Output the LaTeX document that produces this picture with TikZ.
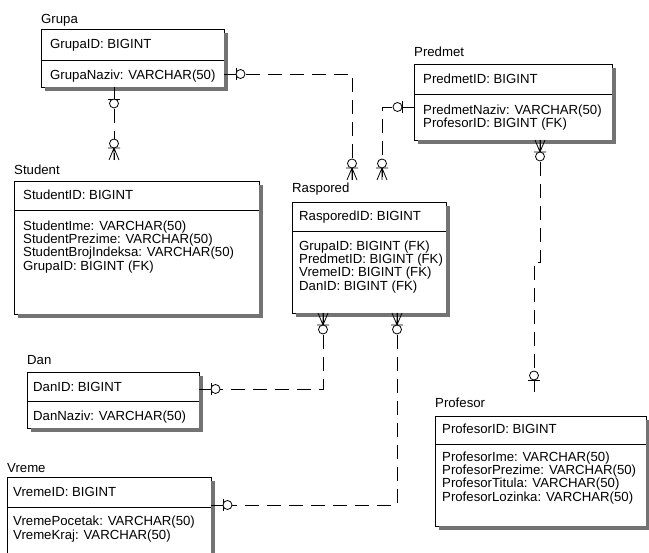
\documentclass[tikz,border=0pt]{standalone}
\usepackage{fontspec}
\setmainfont{Liberation Sans}

\tikzset{
    entity/.style={draw, fill=white, line width=0.8pt, anchor=north west,
        inner sep=0pt, outer sep=0pt},
    boxshadow/.style={fill=black!55, draw=none},
    lbl/.style={anchor=base west, inner sep=0pt, font=\fontsize{13.2}{13.3}\selectfont},
    attrs/.style={lbl, anchor=north west, align=left},
    rel/.style={line width=0.8pt, dash pattern=on 14pt off 8pt},
    % parent end: bar and circle
    onezero/.pic={
        \draw[line width=0.8pt] (0,0) -- (12,0) (12,-6) -- (12,6);
        \draw[line width=0.8pt, fill=white] (16.5,0) circle[radius=4.5];
    },
    % child end: crow's foot, bar and circle
    manyzero/.pic={
        \draw[line width=0.8pt] (0,0) -- (12,0) (0,-5) -- (12,0) -- (0,5) (12,-6) -- (12,6);
        \draw[line width=0.8pt, fill=white] (16.5,0) circle[radius=4.5];
    },
}

\begin{document}
\begin{tikzpicture}[x=1pt,y=-1pt]
    \useasboundingbox (0,0) rectangle (649,553);
    \clip (0,0) rectangle (649,553);

    % Grupa
    \node[entity, minimum width=183pt, minimum height=58pt] (grupa) at (41,29) {};
    \draw[line width=0.8pt] (grupa.west |- 0,60) -- (grupa.east |- 0,60);
    \node[lbl] (grupalbl) at (41,23.5) {Grupa};
    \node[lbl] (grupakey) at (50,48.5) {GrupaID: BIGINT};
    \node[attrs] (grupaattr) at (50,69.5) {GrupaNaziv: VARCHAR(50)};

    % Predmet
    \node[entity, minimum width=198pt, minimum height=76pt] (predmet) at (414,64) {};
    \draw[line width=0.8pt] (predmet.west |- 0,94) -- (predmet.east |- 0,94);
    \node[lbl] (predmetlbl) at (414,57) {Predmet};
    \node[lbl] (predmetkey) at (423,84) {PredmetID: BIGINT};
    \node[attrs] (predmetattr) at (423,104.5) {PredmetNaziv: VARCHAR(50)\\ProfesorID: BIGINT (FK)};

    % Student
    \node[entity, minimum width=245pt, minimum height=133pt] (student) at (14,181) {};
    \draw[line width=0.8pt] (student.west |- 0,210) -- (student.east |- 0,210);
    \node[lbl] (studentlbl) at (14,175) {Student};
    \node[lbl] (studentkey) at (23,200) {StudentID: BIGINT};
    \node[attrs] (studentattr) at (23,220.5) {StudentIme: VARCHAR(50)\\StudentPrezime: VARCHAR(50)\\StudentBrojIndeksa: VARCHAR(50)\\GrupaID: BIGINT (FK)};

    % Raspored
    \node[entity, minimum width=154pt, minimum height=111pt] (raspored) at (292,202) {};
    \draw[line width=0.8pt] (raspored.west |- 0,231) -- (raspored.east |- 0,231);
    \node[lbl] (rasporedlbl) at (292,193) {Raspored};
    \node[lbl] (rasporedkey) at (299,220.5) {RasporedID: BIGINT};
    \node[attrs] (rasporedattr) at (299,240.5) {GrupaID: BIGINT (FK)\\PredmetID: BIGINT (FK)\\VremeID: BIGINT (FK)\\DanID: BIGINT (FK)};

    % Dan
    \node[entity, minimum width=172pt, minimum height=56pt] (dan) at (27,372) {};
    \draw[line width=0.8pt] (dan.west |- 0,401) -- (dan.east |- 0,401);
    \node[lbl] (danlbl) at (27,365) {Dan};
    \node[lbl] (dankey) at (33,391.5) {DanID: BIGINT};
    \node[attrs] (danattr) at (33,410.5) {DanNaziv: VARCHAR(50)};

    % Vreme
    \node[entity, minimum width=204pt, minimum height=90pt] (vreme) at (7,477) {};
    \draw[line width=0.8pt] (vreme.west |- 0,507) -- (vreme.east |- 0,507);
    \node[lbl] (vremelbl) at (7,473) {Vreme};
    \node[lbl] (vremekey) at (13,497) {VremeID: BIGINT};
    \node[attrs] (vremeattr) at (13,516) {VremePocetak: VARCHAR(50)\\VremeKraj: VARCHAR(50)};

    % Profesor
    \node[entity, minimum width=211pt, minimum height=110pt] (profesor) at (435,416) {};
    \draw[line width=0.8pt] (profesor.west |- 0,444) -- (profesor.east |- 0,444);
    \node[lbl] (profesorlbl) at (435,408) {Profesor};
    \node[lbl] (profesorkey) at (442,434) {ProfesorID: BIGINT};
    \node[attrs] (profesorattr) at (442,451.5) {ProfesorIme: VARCHAR(50)\\ProfesorPrezime: VARCHAR(50)\\ProfesorTitula: VARCHAR(50)\\ProfesorLozinka: VARCHAR(50)};

    % shadow strips on the right and bottom of each box
    \foreach \e in {grupa,predmet,student,raspored,dan,vreme,profesor} {
        \fill[boxshadow] ([xshift=0.4pt,yshift=-4pt]\e.north east) rectangle ([xshift=4pt,yshift=-4pt]\e.south east);
        \fill[boxshadow] ([xshift=4pt,yshift=-0.4pt]\e.south west) rectangle ([xshift=4pt,yshift=-4pt]\e.south east);
    }

    % free ends above the titles
    \coordinate (stugrupa) at (114,160);
    \coordinate (rasgrupa) at (352,180);
    \coordinate (raspredmet) at (382,180);
    \coordinate (profpredmet) at (534,392);

    % relationships
    \draw[rel] (114,0 |- grupa.south) -- (stugrupa);
    \draw[rel] (grupa.east |- 0,74) -- (352,74) -- (rasgrupa);
    \draw[rel] (predmet.west |- 0,107) -- (382,107) -- (raspredmet);
    \draw[rel] (540,0 |- predmet.south) -- (540,262) -- (534,262) -- (profpredmet);
    \draw[rel] (323,0 |- raspored.south) -- (323,389) -- (dan.east |- 0,389);
    \draw[rel] (397,0 |- raspored.south) -- (397,505) -- (vreme.east |- 0,505);

    \pic[rotate=-90] at (114,0 |- grupa.south) {onezero};
    \pic[rotate=90] at (stugrupa) {manyzero};
    \pic at (grupa.east |- 0,74) {onezero};
    \pic[rotate=90] at (rasgrupa) {manyzero};
    \pic[rotate=180] at (predmet.west |- 0,107) {onezero};
    \pic[rotate=90] at (raspredmet) {manyzero};
    \pic[rotate=-90] at (540,0 |- predmet.south) {manyzero};
    \pic[rotate=90] at (profpredmet) {onezero};
    \pic[rotate=-90] at (323,0 |- raspored.south) {manyzero};
    \pic at (dan.east |- 0,389) {onezero};
    \pic[rotate=-90] at (397,0 |- raspored.south) {manyzero};
    \pic at (vreme.east |- 0,505) {onezero};
\end{tikzpicture}
\end{document}
